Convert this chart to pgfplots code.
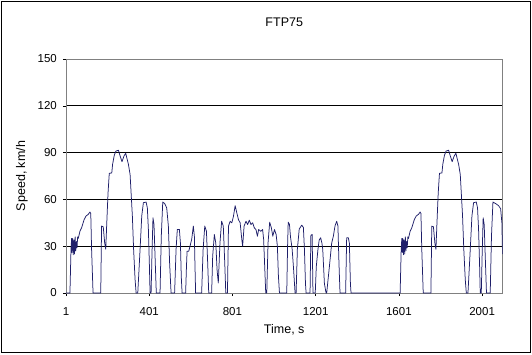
\documentclass[border=0pt]{standalone}
\usepackage{pgfplots}
\pgfplotsset{compat=1.18}
\usepackage{fontspec}
\setmainfont{Liberation Sans}
\definecolor{series}{RGB}{30,30,105}
\definecolor{framec}{RGB}{128,128,128}
\pgfplotstableread{
t v
1 0
20 0
25 27.9
28 35
30 26
33 35
36 24.5
39 34
42 25
45 36
48 27
51 33
54 29
57 36
60 35
68 39.6
76 41.8
88 47
97 49.3
108 50.4
116 51.9
120 51
124 28
131 0
168 0
172 42.9
180 42.4
187 32
192 28
197 45
203 64
209 76.7
221 77
225 82.5
233 88.3
241 91
253 91.5
261 87.9
270 84.2
280 87.9
288 89.6
293 86.8
301 82.5
309 76
313 66.4
320 49.3
326 27.9
333 8.6
338 0
346 0
357 27.9
365 49.3
373 57.9
386 58.3
392 54.6
397 40.7
402 17
405 0
410 0
414 23.6
419 48.2
424 43.9
429 23.6
435 0
453 0
459 36.4
466 58.3
475 57.4
485 54.6
493 42.9
499 19.3
506 0
523 0
530 27.9
536 40.7
546 40.7
551 32
555 10.7
559 0
576 0
580 17
583 26.8
591 26.8
597 30
605 34.3
613 42.9
618 36.4
621 17
624 0
653 0
660 27.9
668 42.9
676 39.6
682 19.3
687 0
701 0
706 23.6
714 37.5
721 32
727 15
733 6.4
741 32
749 46
757 42.9
764 19.3
769 0
777 0
782 42.9
790 46
798 45
806 49.3
814 56
822 51.4
830 47
838 45
846 34.3
850 30
857 42.9
866 46
874 43.9
882 46.7
890 43.9
898 45
906 41.8
914 40.7
921 36.4
927 40.7
937 39.6
946 40.7
951 34.3
956 17
961 0
966 0
972 32
980 45.4
988 41.8
995 36.4
1003 40.7
1011 37.5
1017 30
1022 10.7
1027 0
1062 0
1066 30
1069 45.4
1075 44
1080 36
1088 28
1094 17
1102 0
1107 0
1113 28
1122 41
1134 43.5
1142 42
1147 28
1152 6
1155 0
1174 0
1178 37
1184 37.5
1188 0
1199 0
1204 17
1212 28
1218 34
1225 35.4
1231 32
1235 28
1243 6
1251 0
1254 0
1267 17
1278 32
1286 36.4
1294 43
1302 46
1308 43
1313 19
1318 0
1345 0
1350 35.4
1358 35.4
1363 32
1368 6
1371 0
1607 0
1612 27.9
1615 35
1617 26
1620 35
1623 24.5
1626 34
1629 25
1632 36
1635 27
1638 33
1641 29
1644 36
1647 35
1655 39.6
1663 41.8
1675 47
1684 49.3
1695 50.4
1703 51.9
1707 51
1711 28
1718 0
1755 0
1759 42.9
1767 42.4
1774 32
1779 28
1784 45
1790 64
1796 76.7
1808 77
1812 82.5
1820 88.3
1828 91
1840 91.5
1848 87.9
1857 84.2
1867 87.9
1875 89.6
1880 86.8
1888 82.5
1896 76
1900 66.4
1907 49.3
1913 27.9
1920 8.6
1925 0
1933 0
1944 27.9
1952 49.3
1960 57.9
1973 58.3
1979 54.6
1984 40.7
1989 17
1992 0
1997 0
2001 23.6
2006 48.2
2011 43.9
2016 23.6
2022 0
2040 0
2046 36.4
2053 58.3
2065 57.4
2080 56
2090 54
2096 45
2099 25
}\ftp
\begin{document}
\fontsize{12}{14}\selectfont
\begin{tikzpicture}
\useasboundingbox (-66pt,-61pt) rectangle (466pt,293pt);
\draw[black, line width=1pt] (-64pt,-59pt) rectangle (464pt,291pt);
\begin{axis}[
  at={(0pt,0pt)}, anchor=south west,
  width=436.5pt, height=234pt, scale only axis,
  xmin=1, xmax=2099, ymin=0, ymax=150,
  xtick={1,401,801,1201,1601,2001},
  xticklabels={1,401,801,1201,1601,2001},
  ytick={0,30,60,90,120},
  extra y ticks={150}, extra y tick style={grid=none},
  ymajorgrids, grid style={black, line width=0.7pt},
  axis line style={framec, line width=0.7pt},
  tick style={black, line width=0.5pt},
  tick align=outside, major tick length=3pt,
  xtick pos=bottom, ytick pos=left,
  /pgf/number format/assume math mode=true,
  /pgf/number format/1000 sep={},
  tick label style={font=\fontsize{11.5}{13}\selectfont},
  yticklabel style={xshift=-2pt},
  xticklabel style={yshift=-7pt},
  title={FTP75},
  title style={at={(axis description cs:0.5,1)}, anchor=center, yshift=31pt, font=\fontsize{12.5}{14}\selectfont},
  xlabel={Time, s},
  ylabel={Speed, km/h},
  xlabel style={at={(axis description cs:0.5,-0.158)}, anchor=center, font=\fontsize{12.5}{14}\selectfont},
  ylabel style={at={(axis description cs:-0.1008,0.5)}, anchor=center, font=\fontsize{12.5}{14}\selectfont},
  clip=true,
]
\addplot[series, line width=0.75pt, mark=none, line join=round] table[x=t, y=v] {\ftp};
\end{axis}
\end{tikzpicture}
\end{document}
